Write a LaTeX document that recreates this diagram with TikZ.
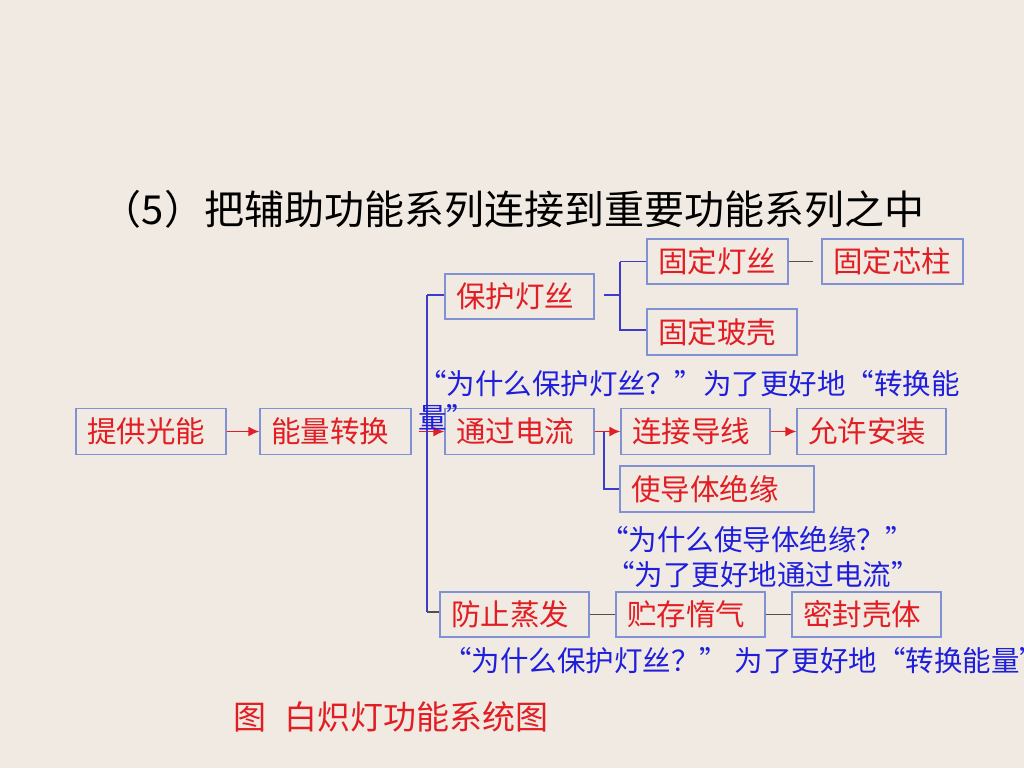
\documentclass[tikz,border=0pt]{standalone}
\usepackage{fontspec}
\usepackage{tikz}
\usetikzlibrary{arrows.meta,positioning}
\newfontfamily\cjk{Noto Sans CJK SC}
\definecolor{paper}{RGB}{240,234,226}
\definecolor{boxline}{RGB}{128,146,212}
\definecolor{redtxt}{RGB}{226,30,36}
\definecolor{bluetxt}{RGB}{30,30,220}
\definecolor{blueline}{RGB}{60,60,200}
\definecolor{darkline}{RGB}{80,80,80}
\tikzset{%
	func/.style   = {draw=boxline, line width=1.2pt, text=redtxt, font=\cjk\fontsize{29.5}{32}\selectfont, inner xsep=11pt, minimum height=46pt, text width=#1, align=left},
	note/.style   = {text=bluetxt, font=\cjk\fontsize{28.5}{34}\selectfont, inner sep=0pt, anchor=west, align=left},
	flow/.style   = {draw=redtxt, line width=1.8pt, -{Latex[length=11pt,width=10pt]}},
	branch/.style = {draw=blueline, line width=1.6pt},
	link/.style   = {draw=darkline, line width=1.6pt},
}
\begin{document}
\begin{tikzpicture}[x=1pt,y=-1pt]
		\fill[paper] (0,0) rectangle (1024,768);
		\useasboundingbox (0,0) rectangle (1024,768);
		\node[font=\cjk\fontsize{40}{42}\selectfont] (title) at (513,209) {（5）把辅助功能系列连接到重要功能系列之中};
		% main line
		\node[func=128pt] (provide) at (151,431.5) {提供光能};
		\node[func=129pt] (convert) at (335.5,431.5) {能量转换};
		\node[func=127pt] (current) at (519.5,431.5) {通过电流};
		\node[func=127pt] (wire) at (695.5,431.5) {连接导线};
		\node[func=127pt] (mount) at (871.5,431.5) {允许安装};
		\node[func=172pt] (insulate) at (717,489) {使导体绝缘};
		% protect branch
		\node[func=127pt, minimum height=45pt] (protect) at (519.5,296.5) {保护灯丝};
		\node[func=119pt, minimum height=45pt] (fixfil) at (717.5,261.5) {固定灯丝};
		\node[func=119pt, minimum height=45pt] (fixstem) at (892.5,261.5) {固定芯柱};
		\node[func=128pt] (fixglass) at (722,332) {固定玻壳};
		% evaporation branch
		\node[func=127pt, minimum height=45pt] (evap) at (514.5,614.5) {防止蒸发};
		\node[func=127pt, minimum height=45pt] (gas) at (690.5,614.5) {贮存惰气};
		\node[func=127pt, minimum height=45pt] (seal) at (866.5,614.5) {密封壳体};
		% connectors
		\coordinate (trunktop) at (427,295);
		\coordinate (trunkbot) at (427,612);
		\coordinate (fork) at (620,295);
		\coordinate (drop) at (604,431.5);
		\draw[flow] (provide) -- (convert);
		\draw[flow, shorten <=7pt] (convert) -- (current);
		\draw[branch] (trunktop) -- (trunkbot);
		\draw[branch] (trunktop) -- (trunktop -| protect.west);
		\draw[link] (trunkbot) -- (trunkbot -| evap.west);
		\draw[branch, shorten <=9pt] (protect.east |- fork) -- (fork);
		\draw[branch] (fork |- fixfil.west) -- (fork |- 0,330) -- (fixglass.west |- 0,330);
		\draw[branch] (fork |- fixfil.west) -- (fixfil.west);
		\draw[link, shorten >=8pt] (fixfil) -- (fixstem);
		\draw[flow] (current) -- (wire);
		\draw[branch] (drop) |- (insulate.west);
		\draw[flow] (wire) -- (mount);
		\draw[link] (evap) -- (gas);
		\draw[link] (gas) -- (seal);
		% notes
		\node[note] (why1) at (418,400) {“为什么保护灯丝？”为了更好地“转换能\\量”};
		\node[note] (why2) at (600,540) {“为什么使导体绝缘？”};
		\node[note] (why3) at (606,575) {“为了更好地通过电流”};
		\node[note] (why4) at (443,661) {“为什么保护灯丝？” 为了更好地“转换能量”};
		\node[text=redtxt, font=\cjk\fontsize{33}{35}\selectfont, anchor=west, inner sep=0pt] (caption) at (233,717) {图\hspace{0.55em}白炽灯功能系统图};
		\end{tikzpicture}
\end{document}
